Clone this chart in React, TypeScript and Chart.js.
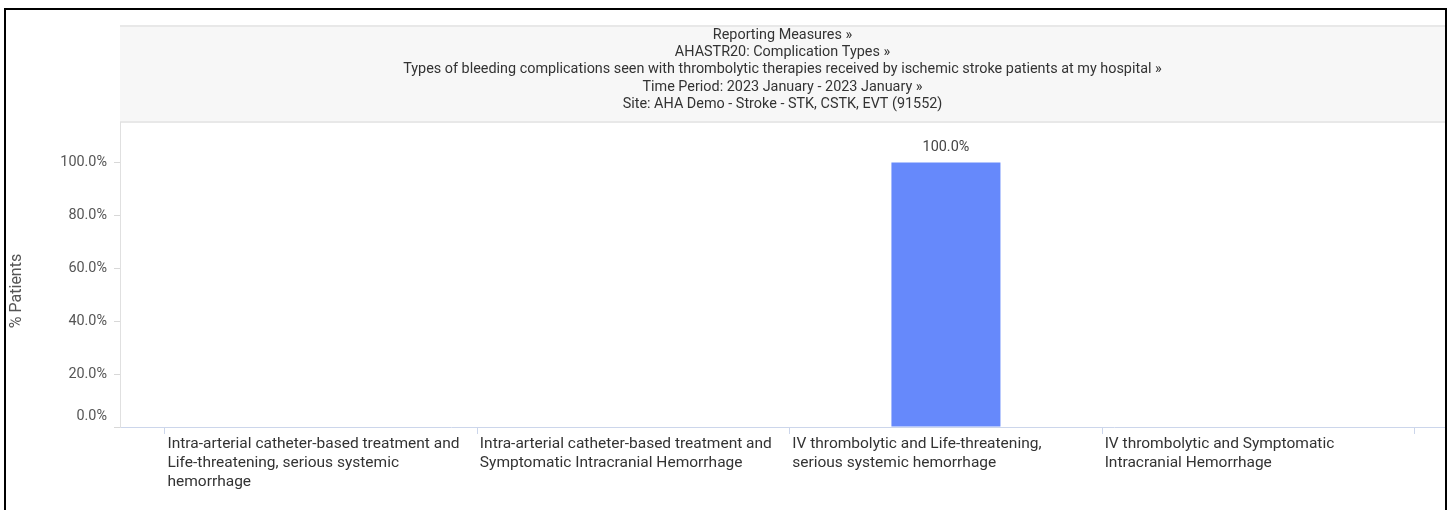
import React, { useEffect, useRef } from 'react';
import { Chart, registerables } from 'chart.js';

Chart.register(...registerables);

const titleLines = [
  'Reporting Measures »',
  'AHASTR20: Complication Types »',
  'Types of bleeding complications seen with thrombolytic therapies received by ischemic stroke patients at my hospital »',
  'Time Period: 2023 January - 2023 January »',
  'Site: AHA Demo - Stroke - STK, CSTK, EVT (91552)',
];

const categories = [
  ['Intra-arterial catheter-based treatment and', 'Life-threatening, serious systemic', 'hemorrhage'],
  ['Intra-arterial catheter-based treatment and', 'Symptomatic Intracranial Hemorrhage'],
  ['IV thrombolytic and Life-threatening,', 'serious systemic hemorrhage'],
  ['IV thrombolytic and Symptomatic', 'Intracranial Hemorrhage'],
];

const percentPatients = [0, 0, 100, 0];

const yTickValues = [0, 20, 40, 60, 80, 100];

const yAxisTitle = '% Patients';

const FONT = 'Roboto';

const fmtPct = (v: number) => v.toFixed(1) + '%';

export default function App() {
  const canvasRef = useRef<HTMLCanvasElement | null>(null);

  useEffect(() => {
    document.documentElement.style.overflow = 'hidden';
    document.body.style.margin = '0';
    document.body.style.overflow = 'hidden';
    const canvas = canvasRef.current;
    if (!canvas) return;

    const headerPlugin = {
      id: 'headerBg',
      beforeDraw(chart: any) {
        const { ctx, chartArea } = chart;
        const tb = chart.titleBlock;
        const top = tb.top + 15;
        const bottom = chartArea.top;
        ctx.save();
        ctx.fillStyle = '#f7f7f7';
        ctx.fillRect(chartArea.left, top, chartArea.right - chartArea.left, bottom - top);
        ctx.strokeStyle = '#e8e8e8';
        ctx.lineWidth = 2;
        ctx.beginPath();
        ctx.moveTo(chartArea.left, top + 1);
        ctx.lineTo(chartArea.right, top + 1);
        ctx.moveTo(chartArea.left, bottom - 1);
        ctx.lineTo(chartArea.right, bottom - 1);
        ctx.stroke();
        ctx.restore();
      },
    };

    const yTitlePlugin = {
      id: 'yTitle',
      afterDraw(chart: any) {
        const { ctx, chartArea } = chart;
        ctx.save();
        ctx.translate(11, (chartArea.top + chartArea.bottom) / 2 + 16);
        ctx.rotate(-Math.PI / 2);
        ctx.textAlign = 'center';
        ctx.textBaseline = 'middle';
        ctx.font = `16px ${FONT}`;
        ctx.fillStyle = '#555';
        ctx.fillText(yAxisTitle, 0, 0);
        ctx.restore();
      },
    };

    const barLabelPlugin = {
      id: 'barLabels',
      afterDatasetsDraw(chart: any) {
        const { ctx } = chart;
        const meta = chart.getDatasetMeta(0);
        ctx.save();
        ctx.font = `14.4px ${FONT}`;
        ctx.fillStyle = '#444';
        ctx.textAlign = 'center';
        ctx.textBaseline = 'middle';
        meta.data.forEach((el: any, i: number) => {
          const v = percentPatients[i];
          if (v > 0) ctx.fillText(fmtPct(v), el.x, el.y - 15);
        });
        ctx.restore();
      },
    };

    const chart = new Chart(canvas, {
      type: 'bar',
      data: {
        datasets: [
          {
            label: '% Patients',
            data: percentPatients.map((v, i) => ({ x: i, y: v })),
            backgroundColor: '#6689fb',
            borderWidth: 0,
            barPercentage: 0.349,
            categoryPercentage: 1,
          },
        ],
      },
      options: {
        animation: false,
        responsive: false,
        devicePixelRatio: 1,
        layout: { padding: 0 },
        plugins: {
          legend: { display: false },
          tooltip: { enabled: false },
          title: {
            display: true,
            text: titleLines,
            fullSize: false,
            color: '#333',
            font: { family: FONT, size: 14.4, weight: 'normal', lineHeight: '17.33px' },
            padding: { top: 16.3, bottom: 10 },
          },
        },
        scales: {
          x: {
            type: 'linear',
            min: -0.644,
            max: 3.5976,
            offset: false,
            afterBuildTicks: (scale: any) => {
              scale.ticks = [-0.5, 0.5, 1.5, 2.5, 3.5].map((v) => ({ value: v }));
            },
            afterFit: (scale: any) => {
              scale.height = 83;
            },
            border: { display: true, color: '#ccd6eb', width: 1 },
            grid: {
              display: true,
              drawOnChartArea: false,
              drawTicks: true,
              tickLength: 7,
              color: '#ccd6eb',
              offset: false,
            },
            ticks: {
              autoSkip: false,
              maxRotation: 0,
              minRotation: 0,
              align: 'start',
              labelOffset: 2.5,
              padding: 1,
              color: '#333',
              font: { family: FONT, size: 15.5, lineHeight: '19px' },
              callback: (value: any) => {
                const idx = Math.round(Number(value) + 0.5);
                return categories[idx] ?? '';
              },
            },
          },
          y: {
            type: 'linear',
            min: 0,
            max: 115,
            afterBuildTicks: (scale: any) => {
              scale.ticks = yTickValues.map((v) => ({ value: v }));
            },
            afterFit: (scale: any) => {
              scale.width = 114;
            },
            border: { display: true, color: '#e0e0e0', width: 1 },
            grid: {
              display: true,
              drawOnChartArea: false,
              drawTicks: true,
              tickLength: 6,
              color: '#d8d8d8',
            },
            ticks: {
              padding: 7,
              color: '#555',
              font: { family: FONT, size: 14.4, lineHeight: '21px' },
              callback: (value: any) => {
                const v = Number(value);
                return v === 0 ? [fmtPct(v), ''] : fmtPct(v);
              },
            },
          },
        },
      },
      plugins: [headerPlugin, yTitlePlugin, barLabelPlugin],
    } as any);

    return () => chart.destroy();
  }, []);

  return (
    <div
      style={{
        position: 'absolute',
        left: 4,
        top: 8,
        width: 1439,
        height: 500,
        border: '2px solid #000',
        background: '#fff',
      }}
    >
      <canvas ref={canvasRef} width={1439} height={500} style={{ display: 'block', width: 1439, height: 500 }} />
    </div>
  );
}
